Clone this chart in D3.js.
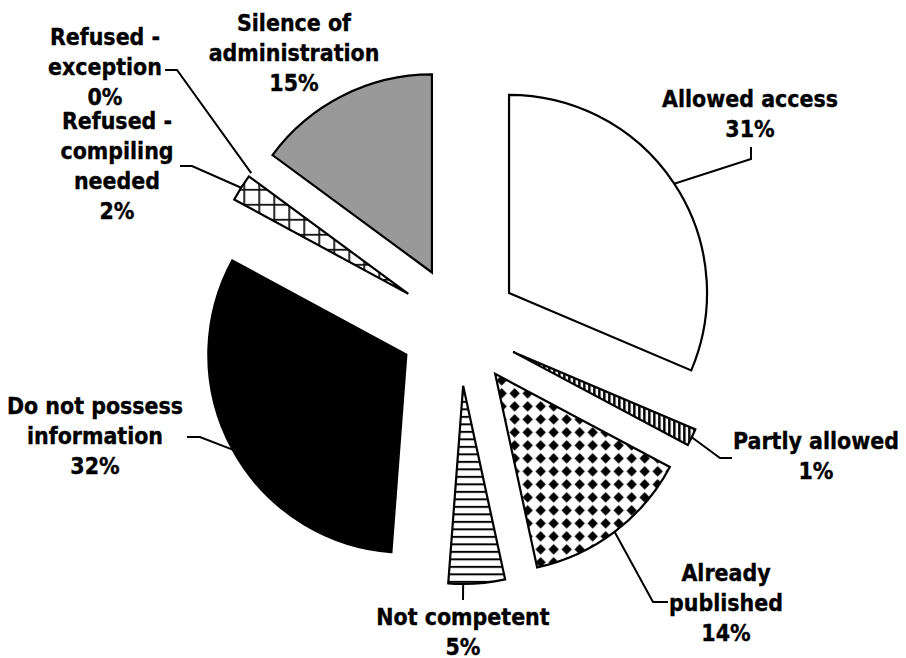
<!DOCTYPE html>
<html>
<head>
<meta charset="utf-8">
<script src="https://cdn.jsdelivr.net/npm/d3@7"></script>
<style>
  html, body { margin: 0; padding: 0; background: #fff; }
  svg { display: block; }
  .lbl { font-family: "DejaVu Sans Condensed", "DejaVu Sans", sans-serif; font-stretch: condensed; font-weight: bold; fill: #000; stroke: #000; stroke-width: 0.35px; }
</style>
</head>
<body>
<script>
// ---- data ----
const categoryLines = [
  ["Allowed access"],
  ["Partly allowed"],
  ["Already", "published"],
  ["Not competent"],
  ["Do not possess", "information"],
  ["Refused -", "compiling", "needed"],
  ["Refused -", "exception"],
  ["Silence of", "administration"]
];
const categories = categoryLines.map(l => l.join(" "));
const values = [31.4, 1.4, 13.8, 4.6, 31.7, 2.2, 0, 14.9];

// ---- style / layout ----
const W = 906, H = 658;
const cx = 459, cy = 326, R = 198, explode = 60;
const fills = ["#ffffff", "url(#pStripeV)", "url(#pDiamond)", "url(#pStripeH)", "#000000", "url(#pGrid)", "#ffffff", "#999999"];
// label anchor: text centre x, first baseline y, leader points after the arc point, optional attach angle (deg)
const labelLayout = [
  { x: 750, y: 107, leader: [[751, 159], [751, 147]] },
  { x: 816, y: 449, leader: [[720, 458], [732, 458]] },
  { x: 726, y: 581, leader: [[653, 602], [668, 602]] },
  { x: 463, y: 625, leader: [[463, 600]], attach: 180 },
  { x: 95,  y: 414, leader: [[200, 437], [187, 437]] },
  { x: 117, y: 129, leader: [[192, 166], [180, 166]] },
  { x: 105, y: 45,  leader: [[177, 70], [165, 70]] },
  { x: 294, y: 31,  leader: null }
];
const lineH = 30;

const svg = d3.select("body").append("svg").attr("width", W).attr("height", H);
svg.append("rect").attr("width", W).attr("height", H).attr("fill", "#fff");

const defs = svg.append("defs");
// vertical stripes
let p = defs.append("pattern").attr("id", "pStripeV").attr("patternUnits", "userSpaceOnUse").attr("width", 5).attr("height", 5);
p.append("rect").attr("width", 5).attr("height", 5).attr("fill", "#fff");
p.append("rect").attr("x", 0).attr("width", 2.5).attr("height", 5).attr("fill", "#000");
// diamonds
p = defs.append("pattern").attr("id", "pDiamond").attr("patternUnits", "userSpaceOnUse").attr("width", 13).attr("height", 13);
p.append("rect").attr("width", 13).attr("height", 13).attr("fill", "#fff");
p.append("path").attr("d", "M6.5,1.3L11.7,6.5L6.5,11.7L1.3,6.5Z").attr("fill", "#000");
// horizontal lines
p = defs.append("pattern").attr("id", "pStripeH").attr("patternUnits", "userSpaceOnUse").attr("width", 8).attr("height", 7.5);
p.append("rect").attr("width", 8).attr("height", 7.5).attr("fill", "#fff");
p.append("rect").attr("y", 0).attr("width", 8).attr("height", 2).attr("fill", "#000");
// grid
p = defs.append("pattern").attr("id", "pGrid").attr("patternUnits", "userSpaceOnUse").attr("width", 15).attr("height", 15);
p.append("rect").attr("width", 15).attr("height", 15).attr("fill", "#fff");
p.append("rect").attr("x", 0).attr("width", 1.8).attr("height", 15).attr("fill", "#111");
p.append("rect").attr("y", 0).attr("width", 15).attr("height", 1.8).attr("fill", "#111");

const pie = d3.pie().sort(null).value(d => d);
const arcs = pie(values);
const arc = d3.arc().innerRadius(0).outerRadius(R);

const g = svg.append("g").attr("transform", `translate(${cx},${cy})`);
arcs.forEach((a, i) => {
  const mid = (a.startAngle + a.endAngle) / 2;
  const dx = explode * Math.sin(mid), dy = -explode * Math.cos(mid);
  a.off = [dx, dy];
  if (a.value <= 0) return;
  g.append("path")
    .attr("d", arc(a))
    .attr("transform", `translate(${dx},${dy})`)
    .attr("fill", fills[i])
    .attr("stroke", "#000")
    .attr("stroke-width", 2.2)
    .attr("stroke-linejoin", "miter");
});

// leader lines
arcs.forEach((a, i) => {
  const L = labelLayout[i];
  if (!L.leader) return;
  const ang = L.attach != null ? L.attach * Math.PI / 180 : (a.startAngle + a.endAngle) / 2;
  const px = cx + a.off[0] + R * Math.sin(ang);
  const py = cy + a.off[1] - R * Math.cos(ang);
  const pts = [[px, py]].concat(L.leader);
  svg.append("path").attr("d", d3.line()(pts)).attr("fill", "none").attr("stroke", "#000").attr("stroke-width", 2);
});

// labels - fit font size so "Allowed access" is ~176px wide
const probe = svg.append("text").attr("class", "lbl").style("font-size", "23px").text("Allowed access");
const wProbe = probe.node().getComputedTextLength();
probe.remove();
const fs = Math.max(18, Math.min(28, 23 * 176 / (wProbe || 176)));

arcs.forEach((a, i) => {
  const L = labelLayout[i];
  const lines = categoryLines[i].concat([Math.round(values[i]) + "%"]);
  const t = svg.append("text").attr("class", "lbl").style("font-size", fs + "px").attr("text-anchor", "middle");
  lines.forEach((s, k) => {
    t.append("tspan").attr("x", L.x).attr("y", L.y + k * lineH).text(s);
  });
});
</script>
</body>
</html>
